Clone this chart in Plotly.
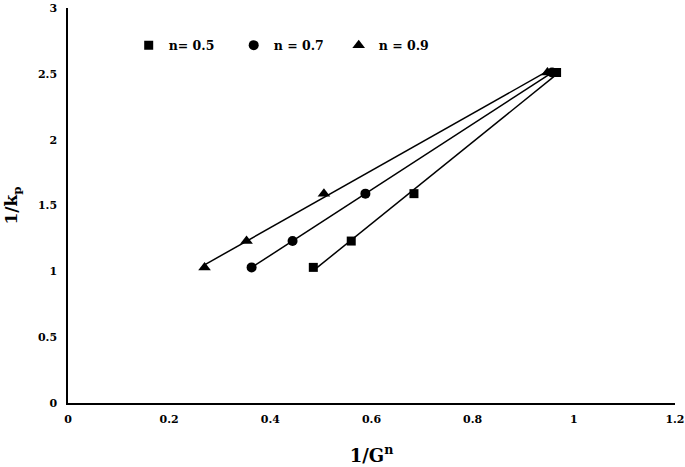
import numpy as np
import plotly.graph_objects as go

series_names = ["n= 0.5", "n = 0.7", "n = 0.9"]
symbols = ["square", "circle", "triangle-up"]
marker_sizes = [9, 10, 11]
x_n05 = [0.485, 0.560, 0.684, 0.966]
x_n07 = [0.363, 0.444, 0.588, 0.957]
x_n09 = [0.270, 0.353, 0.506, 0.948]
y_vals = [1.03, 1.23, 1.59, 2.51]
x_ticks = [0, 0.2, 0.4, 0.6, 0.8, 1, 1.2]
x_ticktext = ["0", "0.2", "0.4", "0.6", "0.8", "1", "1.2"]
y_ticks = [0, 0.5, 1, 1.5, 2, 2.5, 3]
y_ticktext = ["0", "0.5", "1", "1.5", "2", "2.5", "3"]

xs = [x_n05, x_n07, x_n09]

font_family = "DejaVu Serif"
fig = go.Figure()
for name, sym, ms, xv in zip(series_names, symbols, marker_sizes, xs):
    xa = np.array(xv)
    ya = np.array(y_vals)
    m, b = np.polyfit(xa, ya, 1)
    xl = np.array([xa.min(), xa.max()])
    fig.add_trace(go.Scatter(x=xl, y=m * xl + b, mode="lines",
                             line=dict(color="black", width=1.5),
                             showlegend=False, hoverinfo="skip"))
    fig.add_trace(go.Scatter(x=xa, y=ya, mode="markers", name=name,
                             marker=dict(symbol=sym, color="black", size=ms)))

fig.update_layout(
    width=685, height=467,
    margin=dict(l=68, r=10, t=8, b=64),
    paper_bgcolor="white", plot_bgcolor="white",
    font=dict(family=font_family, color="black", size=11, weight="bold"),
    legend=dict(orientation="h", x=0.1, y=0.905, xanchor="left", yanchor="middle",
                font=dict(size=12.5, family=font_family, weight="bold"),
                bgcolor="rgba(0,0,0,0)", itemwidth=30, entrywidth=60,
                entrywidthmode="pixels"),
    xaxis=dict(range=[0, 1.2001], tickvals=x_ticks, ticktext=x_ticktext,
               showgrid=False, zeroline=False, automargin=False,
               showline=True, linecolor="black", linewidth=1.5,
               ticks="", ticklabelstandoff=5, ticklabeloverflow="allow",
               tickfont=dict(size=11, weight="bold"),
               title=dict(text="1/G<sup>n</sup>", font=dict(size=18, weight="bold"), standoff=24)),
    yaxis=dict(range=[0, 3], tickvals=y_ticks, ticktext=y_ticktext,
               showgrid=False, zeroline=False, automargin=False,
               showline=True, linecolor="black", linewidth=1.5,
               ticks="", ticklabelstandoff=7, ticklabeloverflow="allow",
               tickfont=dict(size=11, weight="bold"),
               title=dict(text="1/k<sub>p</sub>", font=dict(size=17, weight="bold"), standoff=16)),
)
fig.write_html("out.html", config={"displayModeBar": False},
               post_script="document.body.style.margin='0';")
